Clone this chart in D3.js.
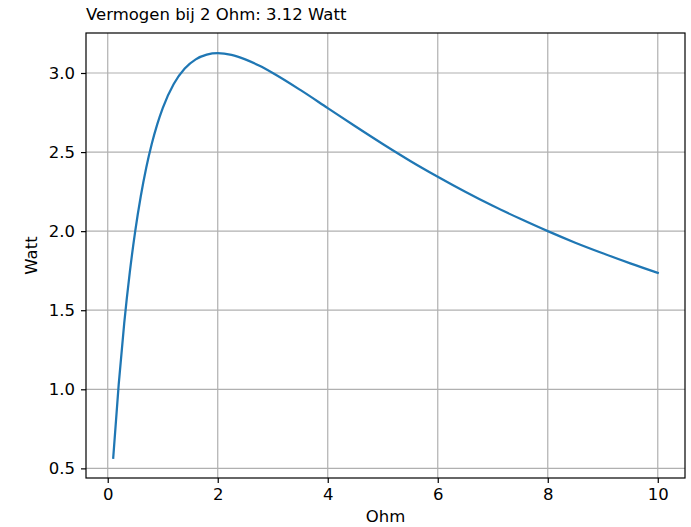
<!DOCTYPE html>
<html>
<head>
<meta charset="utf-8">
<script src="https://cdn.jsdelivr.net/npm/d3@7"></script>
<style>
  html, body { margin: 0; padding: 0; background: #fff; }
  text { font-family: "DejaVu Sans", sans-serif; fill: #000; }
</style>
</head>
<body>
<svg id="chart" width="691" height="527"></svg>
<script>
// Load resistance (Ohm) and delivered power (Watt)
const ohm = [0.1, 0.2, 0.3, 0.4, 0.5, 0.6, 0.7, 0.8, 0.9, 1.0, 1.2, 1.4, 1.6, 1.8, 2.0,
             2.25, 2.5, 2.75, 3.0, 3.5, 4.0, 4.5, 5.0, 5.5, 6.0, 6.5, 7.0, 7.5, 8.0,
             8.5, 9.0, 9.5, 10.0];
const watt = [0.567, 1.033, 1.418, 1.736, 2.000, 2.219, 2.401, 2.551, 2.675, 2.778, 2.930,
              3.028, 3.086, 3.116, 3.125, 3.114, 3.086, 3.047, 3.000, 2.893, 2.778,
              2.663, 2.551, 2.444, 2.344, 2.249, 2.160, 2.078, 2.000, 1.927, 1.860,
              1.796, 1.736];
const xTicks = [0, 2, 4, 6, 8, 10];
const yTicks = [0.5, 1.0, 1.5, 2.0, 2.5, 3.0];
const titleText = "Vermogen bij 2 Ohm: 3.12 Watt";
const xLabel = "Ohm";
const yLabel = "Watt";

const svg = d3.select("#chart");
const L = 86, R = 685, T = 33, B = 478;
const FS = 16.5;

const xPad = (d3.max(ohm) - d3.min(ohm)) * 0.05;
const yPad = (d3.max(watt) - d3.min(watt)) * 0.05;
const x = d3.scaleLinear().domain([d3.min(ohm) - xPad, d3.max(ohm) + xPad]).range([L, R]);
const y = d3.scaleLinear().domain([d3.min(watt) - yPad, d3.max(watt) + yPad]).range([B, T]);

// grid
const grid = svg.append("g");
grid.selectAll(".gx").data(xTicks).join("line")
  .attr("x1", d => x(d)).attr("x2", d => x(d)).attr("y1", T).attr("y2", B)
  .attr("stroke", "#b0b0b0").attr("stroke-width", 1.2);
grid.selectAll(".gy").data(yTicks).join("line")
  .attr("y1", d => y(d)).attr("y2", d => y(d)).attr("x1", L).attr("x2", R)
  .attr("stroke", "#b0b0b0").attr("stroke-width", 1.2);

// curve
const line = d3.line().x((d, i) => x(ohm[i])).y(d => y(d)).curve(d3.curveMonotoneX);
svg.append("path").datum(watt).attr("d", line)
  .attr("fill", "none").attr("stroke", "#1f77b4").attr("stroke-width", 2.25)
  .attr("stroke-linecap", "square");

// axes
const xAxis = d3.axisBottom(x).tickValues(xTicks).tickFormat(d3.format("d")).tickSize(5).tickPadding(5);
const yAxis = d3.axisLeft(y).tickValues(yTicks).tickFormat(d3.format(".1f")).tickSize(5).tickPadding(6);
const gx = svg.append("g").attr("transform", `translate(0,${B})`).call(xAxis);
const gy = svg.append("g").attr("transform", `translate(${L},0)`).call(yAxis);
[gx, gy].forEach(g => {
  g.select(".domain").remove();
  g.selectAll(".tick line").attr("stroke", "#000").attr("stroke-width", 1.2);
  g.selectAll(".tick text").attr("font-size", FS).attr("font-family", "DejaVu Sans");
});

// frame
svg.append("rect").attr("x", L).attr("y", T).attr("width", R - L).attr("height", B - T)
  .attr("fill", "none").attr("stroke", "#000").attr("stroke-width", 1.2);

svg.append("text").attr("x", L).attr("y", 20).attr("font-size", FS).text(titleText);
svg.append("text").attr("x", (L + R) / 2).attr("y", 522).attr("text-anchor", "middle")
  .attr("font-size", FS).text(xLabel);
svg.append("text").attr("transform", `translate(37,${(T + B) / 2}) rotate(-90)`)
  .attr("text-anchor", "middle").attr("font-size", FS).text(yLabel);
</script>
</body>
</html>
